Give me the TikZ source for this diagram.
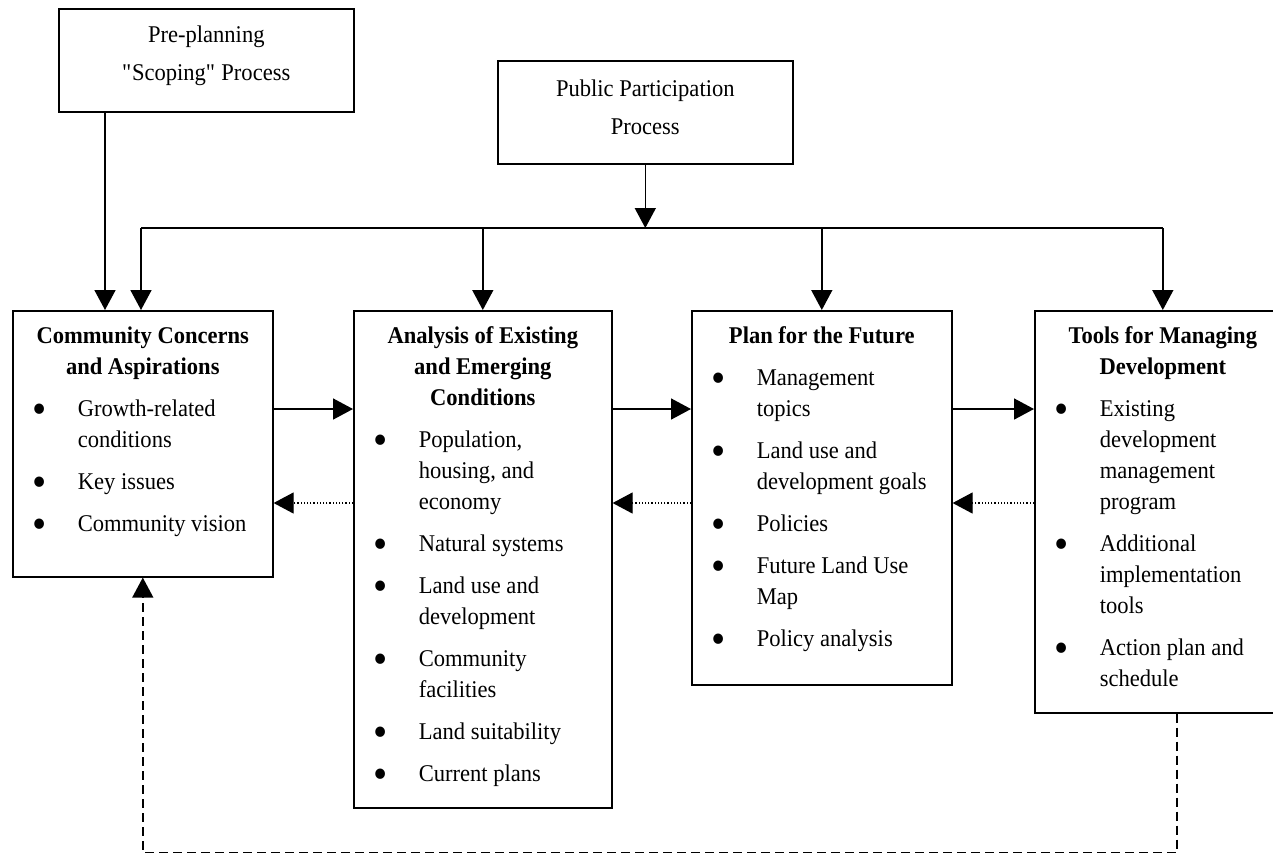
\documentclass[tikz,border=0pt]{standalone}
\usepackage{fontspec}
\usepackage{graphicx}
\setmainfont{Liberation Serif}[FakeStretch=0.94]
\usetikzlibrary{arrows.meta,calc,positioning}
\newcommand{\bl}{\makebox[21.5pt][l]{\hspace*{-1pt}\raisebox{-3.2pt}{\scalebox{1.8}{\textbullet}}}}
\newcommand{\ind}{\hspace*{21.5pt}}
\newcommand{\fl}{\rule{0pt}{10pt}}
\begin{document}
\begin{tikzpicture}[x=0.5pt,y=-0.5pt,line width=0.8pt,
  every node/.style={font=\fontsize{12}{15.5}\selectfont},
  box/.style={draw,anchor=north west,inner sep=0pt},
  top/.style={box,align=center,minimum width=147.5pt,minimum height=51.5pt,font=\fontsize{12}{19}\selectfont},
  ttl/.style={anchor=north,align=center,inner sep=0pt,font=\fontsize{12}{15.5}\selectfont\bfseries},
  lst/.style={anchor=north west,align=left,inner sep=0pt},
  arr/.style={-{Triangle[length=10pt,width=10.5pt]}}]
\useasboundingbox (0,0) rectangle (1273,853);
% top boxes
\node[top] (pre) at (58,8) {Pre-planning\\\textquotedbl Scoping\textquotedbl{} Process\rule[-7.6pt]{0pt}{0pt}};
\node[top] (pp) at (497,60) {Public Participation\\Process\rule[-5pt]{0pt}{0pt}};
% main boxes
\node[box,minimum width=130pt,minimum height=133pt] (cc) at (12,310) {};
\node[box,minimum width=129pt,minimum height=248.5pt] (an) at (353,310) {};
\node[box,minimum width=130pt,minimum height=187pt] (pl) at (691,310) {};
\node[box,minimum width=128pt,minimum height=201pt] (tl) at (1034,310) {};
% titles
\node[ttl] (ccT) at ($(cc.north)+(0,13)$) {\fl Community Concerns\\and Aspirations};
\node[ttl] (anT) at ($(an.north)+(0,13)$) {\fl Analysis of Existing\\and Emerging\\Conditions};
\node[ttl] (plT) at ($(pl.north)+(0,13)$) {\fl Plan for the Future};
\node[ttl] (tlT) at ($(tl.north)+(0,13)$) {\fl Tools for Managing\\Development};
% lists
\node[lst] (ccL) at ($(cc.north west)+(22,86)$) {\fl\bl Growth-related\\\ind conditions\\[5.5pt]\bl Key issues\\[5.5pt]\bl Community vision};
\node[lst] (anL) at ($(an.north west)+(22,117)$) {\fl\bl Population,\\\ind housing, and\\\ind economy\\[5.5pt]\bl Natural systems\\[5.5pt]\bl Land use and\\\ind development\\[5.5pt]\bl Community\\\ind facilities\\[5.5pt]\bl Land suitability\\[5.5pt]\bl Current plans};
\node[lst] (plL) at ($(pl.north west)+(22,55)$) {\fl\bl Management\\\ind topics\\[5.5pt]\bl Land use and\\\ind development goals\\[5.5pt]\bl Policies\\[5.5pt]\bl Future Land Use\\\ind Map\\[5.5pt]\bl Policy analysis};
\node[lst] (tlL) at ($(tl.north west)+(22,86)$) {\fl\bl Existing\\\ind development\\\ind management\\\ind program\\[5.5pt]\bl Additional\\\ind implementation\\\ind tools\\[5.5pt]\bl Action plan and\\\ind schedule};
% connectors
\coordinate (busL) at (141,228);
\coordinate (ccIn) at ($(cc.north west)+(93,0)$);
\draw[arr] (pre.south -| ccIn) -- (ccIn);
\draw[arr] (pp.south) -- (pp.south |- busL);
\draw (busL) -- (tl.north |- busL);
\draw[arr] (busL) -- (busL |- cc.north);
\foreach \b in {an,pl,tl}
  \draw[arr] (\b.north |- busL) -- (\b.north);
\foreach \a/\b in {cc/an,an/pl,pl/tl}{
  \draw[arr] ($(\a.north east)+(0,99)$) -- ($(\b.north west)+(0,99)$);
  \draw[arr,line width=0.6pt,densely dotted] ($(\b.north west)+(0,193)$) -- ($(\a.north east)+(0,193)$);
}
\draw[arr,line width=0.7pt,dash pattern=on 4.5pt off 2.5pt] ($(tl.south)+(14,0)$) -- ++(0,139) -| (cc.south);
\end{tikzpicture}
\end{document}
